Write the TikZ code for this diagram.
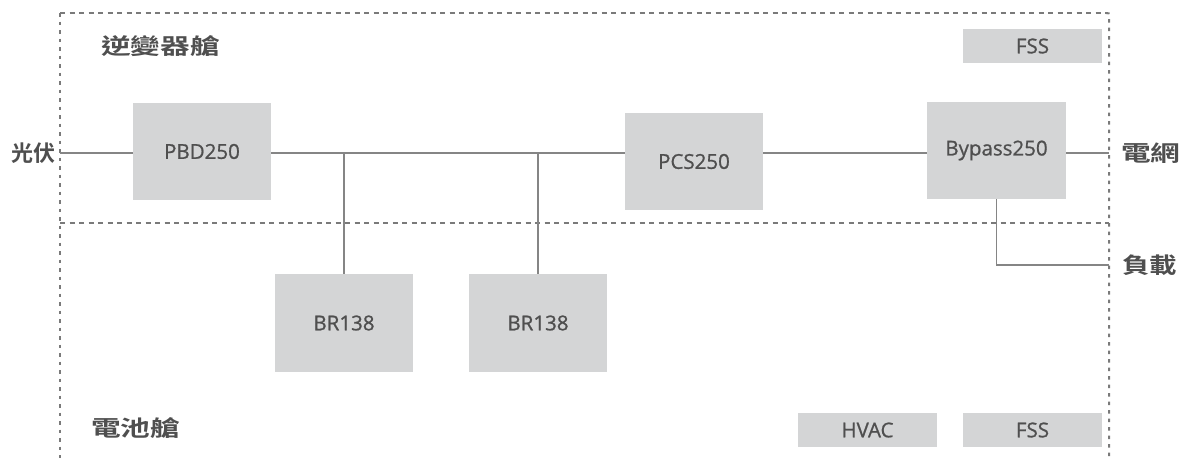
\documentclass[tikz,border=0pt]{standalone}
\usepackage{fontspec}
\setmainfont{Open Sans}
\newfontfamily\unitfont{Open Sans}[FakeBold=0.9]
\newfontfamily\cjk{Noto Sans CJK TC}[BoldFont={* Bold}]
\definecolor{boxfill}{HTML}{D4D5D6}
\definecolor{txt}{HTML}{4F4F4F}
\definecolor{wire}{HTML}{858585}
\definecolor{frame}{HTML}{7A7A7A}
\begin{document}
\begin{tikzpicture}[x=1pt,y=-1pt,
  unit/.style={fill=boxfill,inner sep=0pt,text=txt,font=\unitfont\fontsize{20.5}{22}\selectfont},
  zone/.style={text=txt,font=\cjk\bfseries\fontsize{22}{24}\selectfont,inner sep=0pt},
  wireline/.style={draw=wire,line width=1.6pt},
  hdash/.style={draw=frame,line width=1.8pt,dash pattern=on 5pt off 4.5pt},
  vdash/.style={draw=frame,line width=2pt,dash pattern=on 3.5pt off 5pt}]
\useasboundingbox (0,0) rectangle (1189,458);
% frames
\draw[hdash] (60,13) -- (1106,13);
\draw[vdash] (1106,13) .. controls (1109,13) .. (1109,16) -- (1109,458);
\draw[vdash] (60,13) -- (60,458);
\draw[hdash] (60,223) -- (1109,223);
% boxes
\node[unit,minimum width=138pt,minimum height=97pt] (pbd) at (202,151.5) {PBD250};
\node[unit,minimum width=138pt,minimum height=98pt] (br1) at (344,323) {BR138};
\node[unit,minimum width=138pt,minimum height=98pt] (br2) at (538,323) {BR138};
\node[unit,minimum width=138pt,minimum height=97pt] (pcs) at (694,161.5) {PCS250};
\node[unit,minimum width=139pt,minimum height=97pt] (byp) at (996.5,150.5) {Bypass250};
\node[unit,minimum width=139pt,minimum height=34pt] (fss1) at (1032.5,46) {FSS};
\node[unit,minimum width=139pt,minimum height=34pt] (hvac) at (867.5,430) {HVAC};
\node[unit,minimum width=139pt,minimum height=34pt] (fss2) at (1032.5,430) {FSS};
% labels
\node[zone,anchor=east] (pv) at (56,153) {光伏};
\node[zone,anchor=west] (grid) at (1121,153) {\scalebox{1.35}[1]{電網}};
\node[zone,anchor=west] (load) at (1122,265) {\scalebox{1.25}[1]{負載}};
\node[zone,anchor=west] (inv) at (101,46) {\scalebox{1.35}[1]{逆變器艙}};
\node[zone,anchor=west] (bat) at (91,428) {\scalebox{1.35}[1]{電池艙}};
% wires
\coordinate (pvend) at (60,153);
\coordinate (gridend) at (1109,153);
\coordinate (loadend) at (1109,265);
\draw[wireline] (pvend) -- (pbd.west |- pvend);
\draw[wireline] (pbd.east |- pvend) -- (pcs.west |- pvend);
\draw[wireline] (pcs.east |- pvend) -- (byp.west |- pvend);
\draw[wireline] (byp.east |- pvend) -- (gridend);
\draw[wireline] (br1.north) -- (br1.north |- pvend);
\draw[wireline] (br2.north) -- (br2.north |- pvend);
\draw[wireline] (byp.south) -- (byp.south |- loadend) -- (loadend);
\end{tikzpicture}
\end{document}
